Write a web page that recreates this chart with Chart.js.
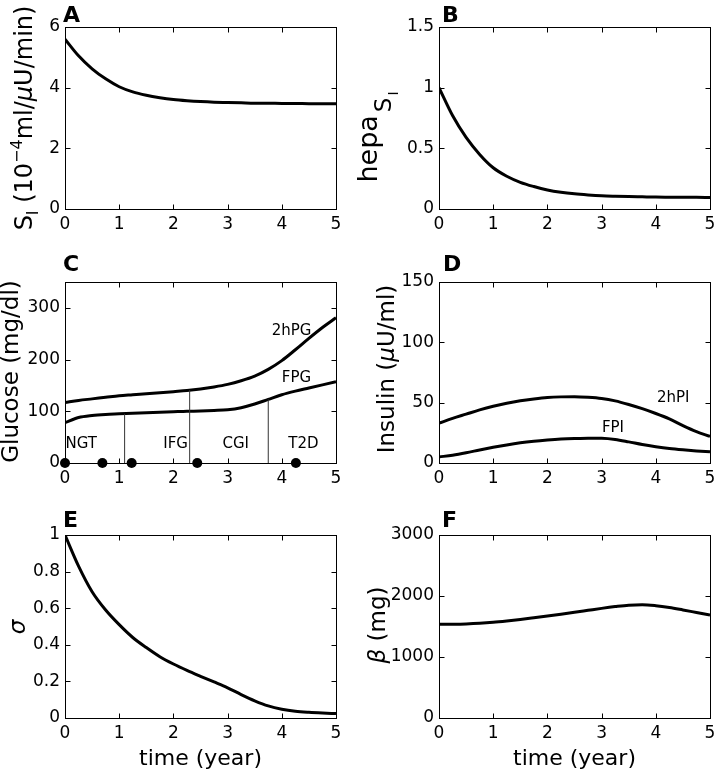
<!DOCTYPE html>
<html>
<head>
<meta charset="utf-8">
<script src="https://cdn.jsdelivr.net/npm/chart.js@4.4.1/dist/chart.umd.min.js"></script>
<style>
  body { margin: 0; background: #fff; }
  #fig { position: relative; width: 714px; height: 773px; }
  #fig canvas { position: absolute; }
</style>
</head>
<body>
<div id="fig">
  <canvas id="pA" width="357" height="250" style="left:0;top:0"></canvas>
  <canvas id="pB" width="357" height="250" style="left:357px;top:0"></canvas>
  <canvas id="pC" width="357" height="255" style="left:0;top:250px"></canvas>
  <canvas id="pD" width="357" height="255" style="left:357px;top:250px"></canvas>
  <canvas id="pE" width="357" height="268" style="left:0;top:505px"></canvas>
  <canvas id="pF" width="357" height="268" style="left:357px;top:505px"></canvas>
</div>
<script>
// time grid (years) shared by every curve
const years = [0, 0.25, 0.5, 0.75, 1, 1.25, 1.5, 1.75, 2, 2.25, 2.5, 2.75, 3, 3.25, 3.5, 3.75, 4, 4.25, 4.5, 4.75, 5];

// A: insulin sensitivity S_I
const siValues = [5.60, 5.05, 4.62, 4.29, 4.03, 3.86, 3.75, 3.67, 3.61, 3.57, 3.54, 3.52, 3.51, 3.50, 3.49, 3.49, 3.48, 3.48, 3.47, 3.47, 3.47];
// B: hepatic S_I
const hepaValues = [1.00, 0.77, 0.59, 0.45, 0.34, 0.27, 0.22, 0.185, 0.157, 0.138, 0.125, 0.116, 0.109, 0.105, 0.102, 0.100, 0.098, 0.097, 0.096, 0.096, 0.095];
// C: glucose
const pg2hValues = [117, 121, 124, 127, 130, 132, 134, 136, 138, 140, 143, 147, 152, 159, 168, 181, 198, 219, 241, 262, 281];
const fpgValues = [78, 88, 92, 94, 95, 96, 97, 98, 99, 100, 100.5, 101.5, 103, 107, 114, 123, 132, 139, 145, 151, 157];
const stageBounds = [1.1, 2.3, 3.75];
const stageBoundTops = [95, 141, 123];
const visitYears = [0, 0.69, 1.23, 2.44, 4.26];
const stageNames = ['NGT', 'IFG', 'CGI', 'T2D'];
// D: insulin
const pi2hValues = [33, 37, 40.5, 44, 47, 49.5, 51.5, 53, 54.2, 54.8, 55, 54.5, 53.5, 51.5, 48.5, 45, 41, 36.5, 31, 26, 22];
const fpiValues = [5, 6.5, 8.5, 10.8, 13, 15, 16.7, 18, 19, 19.8, 20.3, 20.6, 20.5, 19.5, 17.5, 15.3, 13.5, 12, 10.9, 10, 9.3];
// E: sigma, F: beta-cell mass
const sigmaValues = [1.0, 0.83, 0.69, 0.59, 0.51, 0.44, 0.385, 0.335, 0.295, 0.26, 0.228, 0.197, 0.165, 0.128, 0.094, 0.066, 0.048, 0.037, 0.031, 0.027, 0.024];
const betaValues = [1535, 1537, 1542, 1552, 1568, 1590, 1615, 1643, 1672, 1702, 1733, 1765, 1797, 1826, 1850, 1858, 1842, 1812, 1772, 1730, 1688];

Chart.defaults.font.family = "'DejaVu Sans', sans-serif";
Chart.defaults.color = '#000';
Chart.defaults.animation = false;

const FONT = "'DejaVu Sans', sans-serif";
const toPoints = (ys) => years.map((x, i) => ({ x, y: ys[i] }));
const fmt = (v) => String(Math.round(v * 100) / 100);

const curve = (ys) => ({
    data: toPoints(ys),
    borderColor: '#000',
    borderWidth: 3,
    pointRadius: 0,
    cubicInterpolationMode: 'monotone',
    fill: false
});

// MATLAB-like box with inward ticks on all four sides
const boxPlugin = {
    id: 'matlabBox',
    beforeDatasetsDraw(chart) {
        const { ctx, chartArea: a, scales: { x, y } } = chart;
        const L = Math.round(a.left) + 0.5, R = Math.round(a.right) + 0.5;
        const T = Math.round(a.top) + 0.5, B = Math.round(a.bottom) + 0.5;
        const len = 5;
        ctx.save();
        ctx.strokeStyle = '#000';
        ctx.lineWidth = 1;
        ctx.strokeRect(L, T, R - L, B - T);
        ctx.beginPath();
        x.ticks.forEach(t => {
            const px = Math.round(x.getPixelForValue(t.value)) + 0.5;
            ctx.moveTo(px, B); ctx.lineTo(px, B - len);
            ctx.moveTo(px, T); ctx.lineTo(px, T + len);
        });
        y.ticks.forEach(t => {
            const py = Math.round(y.getPixelForValue(t.value)) + 0.5;
            ctx.moveTo(L, py); ctx.lineTo(L + len, py);
            ctx.moveTo(R, py); ctx.lineTo(R - len, py);
        });
        ctx.stroke();
        ctx.restore();
    }
};

// panel letter, rich y title and in-plot notes
function textPlugin(cfg) {
    const fontOf = (p) => `${p.italic ? 'italic ' : ''}${p.size}px ${FONT}`;
    return {
        id: 'panelText',
        afterDraw(chart) {
            const { ctx, scales: { x, y } } = chart;
            ctx.save();
            ctx.fillStyle = '#000';
            ctx.textBaseline = 'alphabetic';
            ctx.textAlign = 'left';
            ctx.font = `bold 22px ${FONT}`;
            ctx.fillText(cfg.letter, cfg.letterAt[0], cfg.letterAt[1]);

            const yt = cfg.yTitle;
            let total = 0;
            const widths = yt.parts.map(p => {
                ctx.font = fontOf(p);
                const w = ctx.measureText(p.text).width + (p.gap || 0);
                total += w;
                return w;
            });
            ctx.save();
            ctx.translate(yt.x, yt.y);
            ctx.rotate(-Math.PI / 2);
            let cx = -total / 2;
            yt.parts.forEach((p, i) => {
                ctx.font = fontOf(p);
                ctx.fillText(p.text, cx, p.shift || 0);
                cx += widths[i];
            });
            ctx.restore();

            ctx.textAlign = 'center';
            ctx.textBaseline = 'middle';
            ctx.font = `15px ${FONT}`;
            (cfg.notes || []).forEach(n => {
                ctx.fillText(n.text, x.getPixelForValue(n.x), y.getPixelForValue(n.y));
            });
            ctx.restore();
        }
    };
}

function xAxis(height, showTitle) {
    return {
        type: 'linear', min: 0, max: 5,
        ticks: { stepSize: 1, font: { size: 17 }, padding: 5, maxRotation: 0, includeBounds: false, callback: fmt },
        grid: { display: false, drawTicks: false },
        border: { display: false },
        title: { display: showTitle, text: 'time (year)', font: { size: 22 }, padding: { top: 0, bottom: 1 } },
        afterFit(s) { s.height = height; s.paddingLeft = 0; s.paddingRight = 0; }
    };
}

function yAxis(min, max, step, width) {
    return {
        type: 'linear', min, max,
        ticks: { stepSize: step, font: { size: 17 }, padding: 5, includeBounds: false, callback: fmt },
        grid: { display: false, drawTicks: false },
        border: { display: false },
        afterFit(s) { s.width = width; s.paddingTop = 0; s.paddingBottom = 0; }
    };
}

function makePanel(id, datasets, axes, padding, text) {
    return new Chart(document.getElementById(id), {
        type: 'line',
        data: { datasets },
        options: {
            responsive: false,
            layout: { padding },
            plugins: { legend: { display: false }, tooltip: { enabled: false } },
            scales: { x: axes.x, y: axes.y }
        },
        plugins: [boxPlugin, textPlugin(text)]
    });
}

// A
makePanel('pA', [curve(siValues)],
    { x: xAxis(41, false), y: yAxis(0, 6, 2, 65) },
    { top: 27, right: 21, left: 0, bottom: 0 },
    { letter: 'A', letterAt: [63, 22],
      yTitle: { x: 32, y: 118, parts: [
        { text: 'S', size: 24 }, { text: 'I', size: 16, shift: 6 },
        { text: ' (10', size: 24 }, { text: '\u22124', size: 16, shift: -10 },
        { text: 'ml/', size: 24 }, { text: '\u03bc', size: 24, italic: true },
        { text: 'U/min)', size: 24 } ] } });

// B
makePanel('pB', [curve(hepaValues)],
    { x: xAxis(41, false), y: yAxis(0, 1.5, 0.5, 82) },
    { top: 27, right: 4, left: 0, bottom: 0 },
    { letter: 'B', letterAt: [85, 22],
      yTitle: { x: 20, y: 137, parts: [
        { text: 'hepa', size: 27, gap: 3 }, { text: 'S', size: 23, shift: 14, gap: 2 },
        { text: 'I', size: 14, shift: 21 } ] } });

// C
const stageLines = stageBounds.map((b, i) => ({
    data: [{ x: b, y: 0 }, { x: b, y: stageBoundTops[i] }],
    borderColor: '#333', borderWidth: 1, pointRadius: 0
}));
makePanel('pC', [
        ...stageLines,
        curve(pg2hValues), curve(fpgValues),
        { data: visitYears.map(v => ({ x: v, y: 0 })), showLine: false, pointRadius: 5,
          pointBackgroundColor: '#000', pointBorderWidth: 0, clip: false }
    ],
    { x: xAxis(42, false), y: yAxis(0, 350, 100, 65) },
    { top: 32, right: 21, left: 0, bottom: 0 },
    { letter: 'C', letterAt: [63, 21],
      yTitle: { x: 18, y: 121.5, parts: [{ text: 'Glucose (mg/dl)', size: 23 }] },
      notes: [
        { text: '2hPG', x: 4.18, y: 255 }, { text: 'FPG', x: 4.27, y: 164 },
        { text: stageNames[0], x: 0.3, y: 36 }, { text: stageNames[1], x: 2.04, y: 36 },
        { text: stageNames[2], x: 3.15, y: 36 }, { text: stageNames[3], x: 4.4, y: 36 }
      ] });

// D
makePanel('pD', [curve(pi2hValues), curve(fpiValues)],
    { x: xAxis(42, false), y: yAxis(0, 150, 50, 82) },
    { top: 32, right: 4, left: 0, bottom: 0 },
    { letter: 'D', letterAt: [86, 21],
      yTitle: { x: 37, y: 119, parts: [
        { text: 'Insulin (', size: 23 }, { text: '\u03bc', size: 23, italic: true },
        { text: 'U/ml)', size: 23 } ] },
      notes: [ { text: '2hPI', x: 4.32, y: 53.6 }, { text: 'FPI', x: 3.21, y: 29 } ] });

// E
makePanel('pE', [curve(sigmaValues)],
    { x: xAxis(55, true), y: yAxis(0, 1, 0.2, 65) },
    { top: 30, right: 21, left: 0, bottom: 0 },
    { letter: 'E', letterAt: [63, 22],
      yTitle: { x: 25, y: 122, parts: [{ text: '\u03c3', size: 23, italic: true }] } });

// F
makePanel('pF', [curve(betaValues)],
    { x: xAxis(55, true), y: yAxis(0, 3000, 1000, 82) },
    { top: 30, right: 4, left: 0, bottom: 0 },
    { letter: 'F', letterAt: [85, 22],
      yTitle: { x: 28, y: 120, parts: [
        { text: '\u03b2', size: 23, italic: true }, { text: ' (mg)', size: 23 } ] } });
</script>
</body>
</html>
